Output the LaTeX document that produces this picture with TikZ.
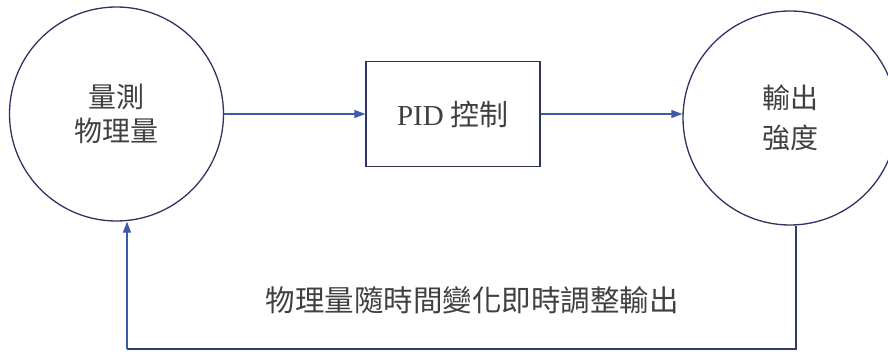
\documentclass[tikz,border=0pt]{standalone}
\usepackage{fontspec}
\setmainfont{Liberation Serif}
\newfontfamily\cjk{Noto Sans CJK TC}
\usetikzlibrary{arrows.meta}
\definecolor{navy}{HTML}{2E3360}
\definecolor{arrowblue}{HTML}{3D5BAA}
\definecolor{txt}{HTML}{404040}
\tikzset{
  circ/.style={circle,draw=navy,line width=1.3pt,minimum size=214pt,inner sep=0pt,align=center,text=txt},
  boxnode/.style={rectangle,draw=navy,line width=1.3pt,minimum width=174pt,minimum height=105pt,text=txt,font=\fontsize{29}{34}\selectfont},
  conn/.style={draw=arrowblue,line width=1.2pt,-{Triangle[length=11pt,width=8pt]}},
  fb/.style={draw=navy!80!arrowblue,line width=1.1pt}
}
\begin{document}
\begin{tikzpicture}[x=1pt,y=-1pt]
\useasboundingbox (0,0) rectangle (888,358);
\node[circ,font=\cjk\fontsize{28}{34}\selectfont] (meas) at (116.5,114) {量測\\物理量};
\node[boxnode] (box) at (453,114) {PID {\cjk 控制}};
\node[circ,font=\cjk\fontsize{28}{40}\selectfont] (out) at (790,118) {輸出\\強度};
\coordinate (c1) at (796,349);
\coordinate (c2) at (127,349);
\draw[conn] (meas.east) -- (box.west);
\draw[conn] (box.east) -- (out.west |- box.east);
\draw[fb] (c1 |- out.south) -- (c1) -- (c2);
\draw[conn] (c2) -- (c2 |- meas.south);
\node[text=txt,font=\cjk\fontsize{29.5}{34}\selectfont] (lbl) at (472,300) {物理量隨時間變化即時調整輸出};
\end{tikzpicture}
\end{document}
